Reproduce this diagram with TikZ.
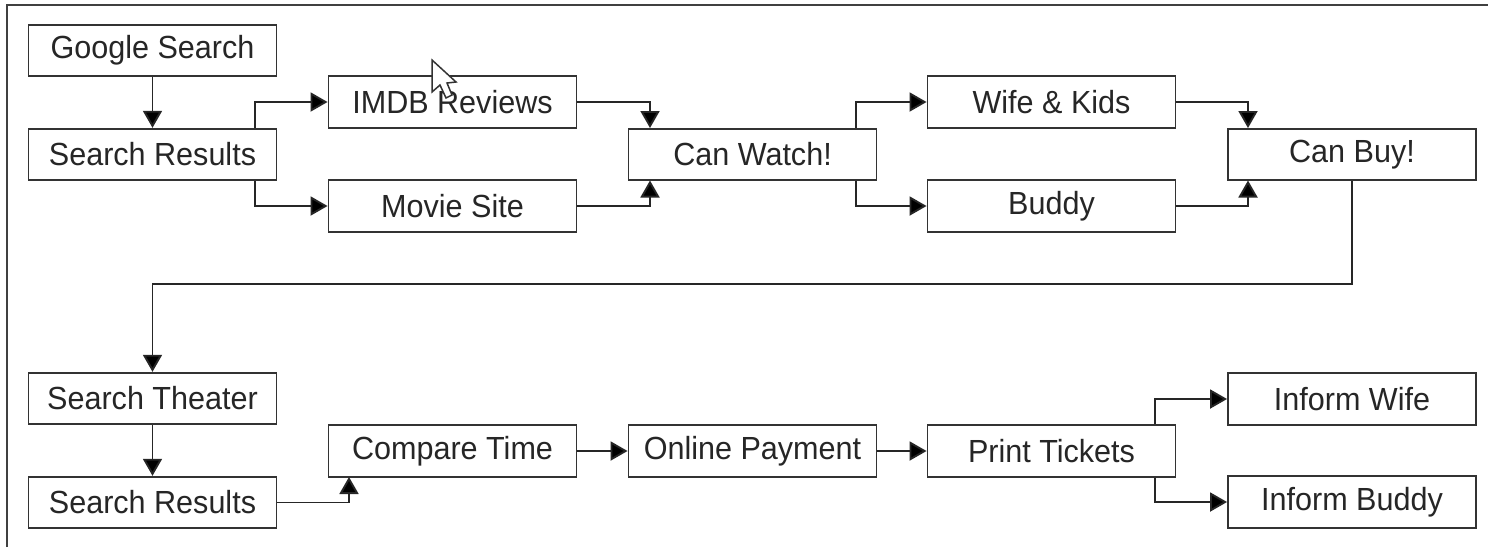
\documentclass[tikz,border=0pt]{standalone}
\usepackage{fontspec}
\setmainfont[FakeStretch=0.955]{Liberation Sans}
\usetikzlibrary{arrows.meta}
\tikzset{
  x=1pt,y=-1pt,
  box/.style={draw=black!80,line width=1.9pt,fill=white,minimum width=248pt,minimum height=51.5pt,inner sep=0pt,anchor=center,text=black!85,font=\fontsize{32}{38}\selectfont},
  link/.style={draw=black!85,line width=1.9pt,-{Triangle[length=17pt,width=19pt,fill=black]}},
}
\begin{document}
\begin{tikzpicture}
\useasboundingbox (0,0) rectangle (1488,547);
\fill[white] (0,0) rectangle (1488,547);
\draw[black!75,line width=2pt] (6.5,547) -- (6.5,4.5) -- (1488,4.5);
\node[box] (google) at (152.5,50.5) {Google Search};
\node[box] (results) at (152.5,154.5) {Search Results};
\node[box] (imdb) at (452.5,102) {IMDB Reviews};
\node[box] (movie) at (452.5,206) {Movie Site};
\node[box] (watch) at (752.5,154.5) {Can Watch!};
\node[box] (wife) at (1051.5,102) {Wife \& Kids};
\node[box] (buddy) at (1051.5,206) {Buddy};
\node[box] (buy) at (1352,154.5) {Can Buy!};
\node[box] (theater) at (152.5,398.5) {Search Theater};
\node[box] (results2) at (152.5,502.5) {Search Results};
\node[box] (compare) at (452.5,451) {Compare Time};
\node[box] (payment) at (752.5,451) {Online Payment};
\node[box] (tickets) at (1051.5,451) {Print Tickets};
\node[box] (iwife) at (1352,399) {Inform Wife};
\node[box] (ibuddy) at (1352,502) {Inform Buddy};
\draw[link] (google) -- (results);
\draw[link] (results.north -| 255,0) |- (imdb.west);
\draw[link] (results.south -| 255,0) |- (movie.west);
\draw[link] (imdb.east) -| (650,128);
\draw[link] (movie.east) -| (650,180.5);
\draw[link] (watch.north -| 856,0) |- (wife.west);
\draw[link] (watch.south -| 856,0) |- (buddy.west);
\draw[link] (wife.east) -| (1248,128);
\draw[link] (buddy.east) -| (1248,180.5);
\draw[link] (buy.south) -- (1352,284) -| (theater.north);
\draw[link] (theater) -- (results2);
\draw[link] (results2.east) -| (349,477);
\draw[link] (compare) -- (payment);
\draw[link] (payment) -- (tickets);
\draw[link] (tickets.north -| 1155,0) |- (iwife.west);
\draw[link] (tickets.south -| 1155,0) |- (ibuddy.west);
\draw[black!80,line width=1.5pt,fill=white] (432,60) -- (432,92) -- (440,85) -- (446,98) -- (452,95) -- (447,83) -- (456,82) -- cycle;
\end{tikzpicture}
\end{document}
